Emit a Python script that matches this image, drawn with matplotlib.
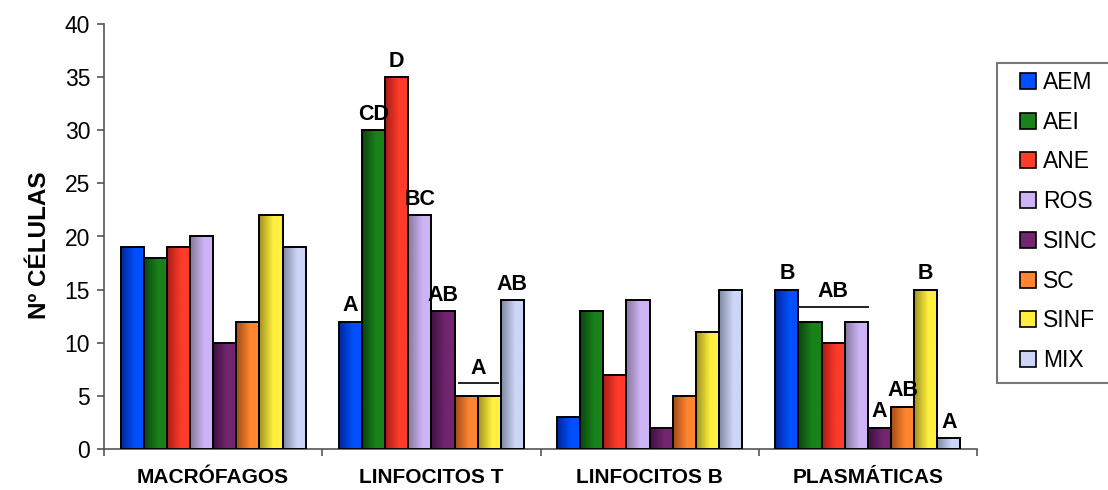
import numpy as np
import matplotlib
matplotlib.use('Agg')
import matplotlib.pyplot as plt
from matplotlib.patches import Rectangle, Patch
from matplotlib.colors import to_rgb

#%%----------------------------------------------------------
### Data
categories = ['MACRÓFAGOS', 'LINFOCITOS T', 'LINFOCITOS B', 'PLASMÁTICAS']
groups = ['AEM', 'AEI', 'ANE', 'ROS', 'SINC', 'SC', 'SINF', 'MIX']

aem = [19, 12, 3, 15]
aei = [18, 30, 13, 12]
ane = [19, 35, 7, 10]
ros = [20, 22, 14, 12]
sinc = [10, 13, 2, 2]
sc = [12, 5, 5, 4]
sinf = [22, 5, 11, 15]
mix = [19, 14, 15, 1]
values = [aem, aei, ane, ros, sinc, sc, sinf, mix]

# significance letters per (category, group); None = no letter
letters_lt = ['A', 'CD', 'D', 'BC', 'AB', None, None, 'AB']
letters_pl = ['B', None, None, None, 'A', 'AB', 'B', 'A']
# letters shared by several bars, drawn over a line: (category, first, last, text, level)
shared = [(1, 5, 6, 'A', 6.2), (3, 1, 3, 'AB', 13.4)]

#%%----------------------------------------------------------
### Colors (bright side, shaded side)
light = ['#0050ff', '#1a821a', '#ff3b2a', '#cdb4f6', '#732570', '#ff8530', '#fff040', '#cdd6f8']
dark = ['#00279a', '#0a4510', '#a81e18', '#857798', '#3d1240', '#a04c18', '#a09020', '#7f88a0']

plt.rcParams['font.family'] = ['Liberation Sans', 'DejaVu Sans']

fig = plt.figure(figsize=(11.08, 4.90), dpi=100)
ax = fig.add_axes([104/1108, 1 - 449/490, (977 - 104)/1108, (449 - 24)/490])

w = 0.106
x = np.arange(len(categories))
t = np.linspace(0, 1, 64)
ramp = np.clip(t / 0.6, 0, 1)

for j, vals in enumerate(values):
    c0, c1 = np.array(to_rgb(dark[j])), np.array(to_rgb(light[j]))
    grad = (c0[None, :] * (1 - ramp[:, None]) + c1[None, :] * ramp[:, None])[None, :, :]
    for i, v in enumerate(vals):
        x0 = x[i] + (j - 4) * w
        rect = Rectangle((x0, 0), w, v, facecolor='none', edgecolor='black', lw=1.4, zorder=3)
        ax.add_patch(rect)
        im = ax.imshow(grad, extent=(x0, x0 + w, 0, v), aspect='auto', zorder=2,
                       interpolation='bilinear')
        im.set_clip_path(rect)

# letters above single bars
for i, letters in [(1, letters_lt), (3, letters_pl)]:
    for j, lab in enumerate(letters):
        if lab is None:
            continue
        ax.text(x[i] + (j - 3.5) * w, values[j][i] + 0.5, lab, ha='center', va='bottom',
                fontsize=15.5, fontweight='bold')

# shared letters with a line
for i, j0, j1, lab, lev in shared:
    xa = x[i] + (j0 - 4) * w + (0.18 * w if i == 1 else 0)
    xb = x[i] + (j1 - 3) * w - (0.1 * w if i == 1 else 0)
    ax.plot([xa, xb], [lev, lev], color='#222222', lw=1.4, zorder=4)
    ax.text((xa + xb) / 2, lev + 0.4, lab, ha='center', va='bottom',
            fontsize=15.5, fontweight='bold')

ax.set_xlim(-0.5, 3.5)
ax.set_ylim(0, 40)
ax.set_yticks(np.arange(0, 41, 5))
ax.set_xticks(x)
ax.set_xticklabels(categories, fontsize=15, fontweight='bold')
ax.set_xticks(np.arange(-0.5, 4, 1), minor=True)
ax.tick_params(axis='x', which='major', length=0, pad=14)
ax.tick_params(axis='x', which='minor', length=5, width=1.2, color='#555555', direction='out')
ax.tick_params(axis='y', length=5, width=1.2, color='#555555', labelsize=16.5, pad=5)
for s in ['top', 'right']:
    ax.spines[s].set_visible(False)
for s in ['left', 'bottom']:
    ax.spines[s].set_color('#555555')
    ax.spines[s].set_linewidth(1.2)

fig.text(40/1108, 1 - 245/490, 'Nº CÉLULAS', rotation=90, ha='center', va='center',
         fontsize=17.5, fontweight='bold')

# legend frame runs off the right edge
fig.patches.append(Rectangle((997/1108, 1 - 383/490), 0.2, (383 - 63)/490,
                             transform=fig.transFigure, facecolor='white',
                             edgecolor='#777777', lw=1.5, zorder=1))
handles = [Patch(facecolor=light[j], edgecolor='black', lw=1.2) for j in range(len(groups))]
fig.legend(handles, groups, loc='upper left', bbox_to_anchor=(1020/1108, 1 - 71/490),
           frameon=False, fontsize=16.5, handlelength=0.7, handleheight=0.7,
           handletextpad=0.3, labelspacing=0.73, borderaxespad=0, borderpad=0)

fig.savefig('out.png', dpi=100)
